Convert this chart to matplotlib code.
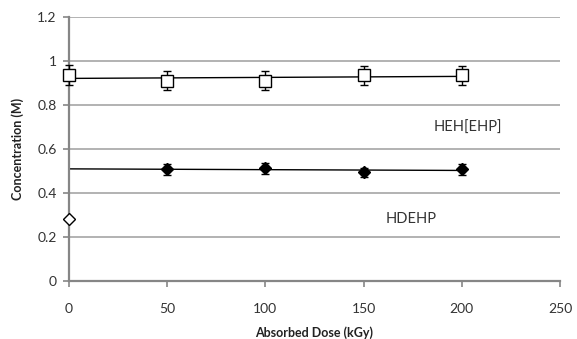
import numpy as np
import matplotlib
matplotlib.use("Agg")
import matplotlib.pyplot as plt

plt.rcParams['font.family'] = ['Lato', 'DejaVu Sans']

# Absorbed dose (kGy) and measured concentrations (M)
dose_heh = [0, 50, 100, 150, 200]
conc_heh = [0.937, 0.911, 0.911, 0.936, 0.936]
err_heh = [0.044, 0.044, 0.044, 0.044, 0.044]

dose_hdehp = [50, 100, 150, 200]
conc_hdehp = [0.507, 0.512, 0.494, 0.507]
err_hdehp = [0.025, 0.025, 0.02, 0.025]

dose_initial = [0]
conc_initial = [0.28]

x_ticks = [0, 50, 100, 150, 200, 250]
y_ticks = [0, 0.2, 0.4, 0.6, 0.8, 1.0, 1.2]
y_tick_labels = ['0', '0.2', '0.4', '0.6', '0.8', '1', '1.2']

fig = plt.figure(figsize=(5.77, 3.39), dpi=100)
ax = fig.add_axes([69 / 577, 1 - 280.7 / 339, (560 - 69) / 577, (280.7 - 17.3) / 339])

ax.set_xlim(0, 250)
ax.set_ylim(0, 1.2)
ax.set_yticks(y_ticks)
ax.set_yticklabels(y_tick_labels)
ax.set_xticks(x_ticks)

grid_col = '#a6a6a6'
ax.yaxis.grid(True, color=grid_col, linewidth=1.2)
ax.set_axisbelow(True)
for side in ('top', 'right'):
    ax.spines[side].set_visible(False)
for side in ('left', 'bottom'):
    ax.spines[side].set_color('#868686')
    ax.spines[side].set_linewidth(1.6)
ax.tick_params(axis='both', colors='#868686', length=4, width=1.2, direction='out',
               labelcolor='#333333', labelsize=10)
ax.tick_params(axis='x', pad=12)
ax.tick_params(axis='y', pad=5)

# Linear trendlines
x_line = np.array([0, 200])
p1 = np.polyfit(dose_heh, conc_heh, 1)
ax.plot(x_line, np.polyval(p1, x_line), color='black', linewidth=1.0, zorder=2)
p2 = np.polyfit(dose_hdehp, conc_hdehp, 1)
ax.plot(x_line, np.polyval(p2, x_line), color='black', linewidth=1.0, zorder=2)

ax.errorbar(dose_heh, conc_heh, yerr=err_heh, fmt='s', markersize=8,
            markerfacecolor='white', markeredgecolor='black', markeredgewidth=1.0,
            ecolor='black', elinewidth=1.0, capsize=3, capthick=1.0, zorder=3,
            clip_on=False)
ax.errorbar(dose_hdehp, conc_hdehp, yerr=err_hdehp, fmt='D', markersize=6,
            markerfacecolor='black', markeredgecolor='black',
            ecolor='black', elinewidth=1.0, capsize=3, capthick=1.0, zorder=3)
ax.plot(dose_initial, conc_initial, linestyle='none', marker='D', markersize=6,
        markerfacecolor='white', markeredgecolor='black', markeredgewidth=1.0,
        zorder=3, clip_on=False)

ax.text(203, 0.695, 'HEH[EHP]', fontsize=10.5, color='#333333', ha='center', va='center')
ax.text(174, 0.28, 'HDEHP', fontsize=10.5, color='#333333', ha='center', va='center')

ax.set_xlabel('Absorbed Dose (kGy)', fontsize=9, fontweight='bold', color='#222222',
              labelpad=8)
ax.set_ylabel('Concentration (M)', fontsize=9, fontweight='bold', color='#222222',
              labelpad=9)

fig.savefig('out.png', dpi=100)
